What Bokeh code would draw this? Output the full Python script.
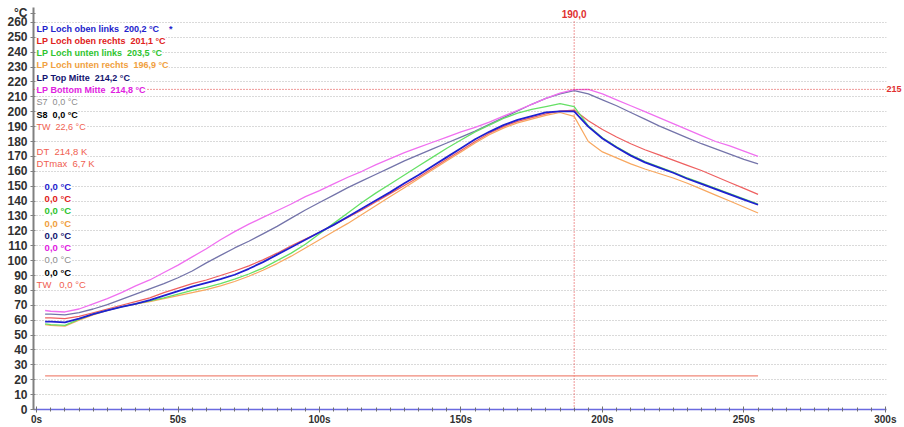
from bokeh.plotting import figure
from bokeh.models import (Range1d, SingleIntervalTicker, FixedTicker, PrintfTickFormatter,
                          Span, Label, LinearAxis)
from bokeh.embed import file_html
from bokeh.resources import INLINE

# ---------------- data ----------------
times = [3, 5, 10, 15, 20, 25, 30, 35, 40, 45, 50, 55, 60, 65, 70, 75, 80, 85, 90, 95,
         100, 105, 110, 115, 120, 125, 130, 135, 140, 145, 150, 155, 160, 165, 170, 175,
         180, 185, 190, 195, 200, 205, 210, 215, 220, 225, 230, 235, 240, 245, 250, 255]

bottom_mitte = [66.5, 66.0, 65.5, 67.5, 71.0, 74.5, 78.5, 83.0, 87.0, 92.0, 97.0, 102.5, 108.0,
                114.0, 119.5, 124.5, 129.0, 133.5, 138.0, 143.0, 147.0, 151.5, 156.0, 160.0,
                164.5, 168.5, 172.5, 176.0, 179.5, 183.0, 186.5, 189.5, 193.0, 197.0, 201.0,
                205.0, 209.0, 212.5, 214.8, 215.0, 212.0, 208.0, 204.0, 200.0, 196.0, 192.0,
                188.0, 184.0, 180.0, 177.0, 173.5, 170.0]

top_mitte = [64.0, 64.0, 63.5, 65.0, 67.5, 70.5, 74.0, 77.5, 81.0, 84.5, 88.5, 93.0, 98.5,
             103.5, 108.5, 113.0, 118.0, 123.0, 128.5, 134.0, 139.0, 144.0, 149.0, 153.5,
             158.0, 162.5, 167.0, 171.0, 175.0, 179.0, 183.0, 187.0, 191.5, 196.0, 200.5,
             205.0, 209.0, 212.0, 214.2, 212.0, 208.0, 204.0, 199.5, 195.0, 190.5, 186.5,
             182.5, 178.5, 175.0, 171.5, 168.0, 165.0]

oben_links = [59.0, 59.0, 58.5, 61.0, 64.0, 66.5, 69.0, 71.0, 73.5, 76.5, 79.5, 82.5, 85.0,
              87.5, 90.5, 94.5, 99.0, 104.0, 109.0, 114.0, 119.0, 124.0, 129.5, 135.0,
              140.5, 146.0, 152.0, 157.5, 163.5, 169.5, 175.5, 181.5, 186.5, 191.0, 194.5,
              197.0, 199.5, 200.2, 200.2, 190.0, 182.0, 176.0, 170.5, 166.0, 162.5, 159.0,
              155.0, 151.5, 148.0, 144.5, 141.0, 137.5]

oben_rechts = [61.5, 61.5, 61.0, 62.5, 65.0, 67.5, 70.0, 72.5, 75.0, 78.5, 81.5, 84.5, 87.0,
               90.0, 93.0, 96.5, 100.5, 105.0, 110.0, 114.5, 119.0, 124.0, 129.0, 134.0,
               139.5, 145.0, 150.5, 156.0, 162.0, 168.0, 174.0, 180.0, 185.5, 190.0, 193.5,
               196.0, 198.5, 200.5, 201.1, 194.0, 188.0, 183.0, 178.5, 174.5, 171.0, 167.5,
               164.0, 160.5, 156.5, 152.5, 148.5, 144.5]

unten_links = [57.5, 57.0, 56.5, 60.5, 64.0, 66.5, 69.0, 71.0, 73.0, 75.0, 77.5, 80.0, 82.0,
               84.5, 87.5, 91.0, 95.0, 100.0, 105.0, 111.0, 118.0, 125.0, 132.0, 139.0,
               145.5, 151.5, 157.5, 163.5, 169.5, 175.5, 181.0, 186.5, 191.0, 195.5, 199.0,
               201.5, 203.5, 205.5, 203.5, 190.5, 182.5, 176.5, 171.0, 166.5, 163.0, 159.5,
               155.5, 152.0, 148.5, 145.0, 141.5, 138.0]

unten_rechts = [57.0, 56.5, 56.0, 60.0, 63.5, 66.5, 69.0, 71.0, 72.5, 74.5, 76.5, 78.5, 80.5,
                83.0, 86.0, 89.5, 93.5, 98.0, 103.0, 108.5, 114.0, 119.5, 125.0, 131.0,
                137.0, 143.0, 149.0, 155.0, 161.0, 167.0, 173.0, 179.0, 184.5, 189.0, 192.5,
                195.0, 197.5, 199.5, 196.9, 180.0, 173.0, 169.0, 165.0, 161.5, 158.5, 155.5,
                152.0, 148.0, 144.0, 140.0, 136.0, 132.0]

tw_times = [3, 255]
tw_vals = [22.6, 22.6]

y_ticks = [0, 10, 20, 30, 40, 50, 60, 70, 80, 90, 100, 110, 120, 130, 140, 150, 160,
           170, 180, 190, 200, 210, 220, 230, 240, 250, 260]
unit_text = "°C"

channel_names = ["LP Loch oben links", "LP Loch oben rechts", "LP Loch unten links",
                 "LP Loch unten rechts", "LP Top Mitte", "LP Bottom Mitte", "S7", "S8", "TW"]
cursor_vals = [200.2, 201.1, 203.5, 196.9, 214.2, 214.8, 0.0, 0.0, 22.6]
second_vals = [0.0, 0.0, 0.0, 0.0, 0.0, 0.0, 0.0, 0.0, 0.0]
dt_val = 214.8
dtmax_val = 6.7
cursor_x = 190.0
cursor_y = 215

text_colors = ["#2222cc", "#e02020", "#2ec42e", "#f0a040", "#141470", "#e020e0",
               "#8c8c8c", "#000000", "#f06050"]
text_bold = [True, True, True, True, True, True, False, True, False]

series = [
    (top_mitte, "#7474aa", 1.3),
    (bottom_mitte, "#f070f0", 1.3),
    (unten_rechts, "#f8a860", 1.2),
    (oben_rechts, "#ee6060", 1.2),
    (unten_links, "#66e066", 1.3),
    (oben_links, "#2020d0", 1.8),
]


def fmt(v):
    return f"{v:.1f}".replace(".", ",")


NB = "\u00a0"
FONT = "Liberation Sans"
Y_TOP = 262          # top of the data area
Y_MAX = 270          # range end (room for unit and cursor labels)
UNIT_POS = 266       # where the unit text sits on the value axis
CURSOR_LABEL_Y = 265.5

# ---------------- figure ----------------
p = figure(width=904, height=427, x_range=Range1d(-1.1, 300.4), y_range=Range1d(0, Y_MAX),
           output_backend="svg", toolbar_location=None,
           min_border_left=33, min_border_right=0, min_border_top=7, min_border_bottom=16)
p.outline_line_color = None
p.background_fill_color = "white"
p.border_fill_color = "white"

p.xgrid.grid_line_color = None
p.ygrid.ticker = SingleIntervalTicker(interval=10, num_minor_ticks=0)
p.ygrid.bounds = (0, Y_TOP)
p.ygrid.grid_line_color = "#b4b4b4"
p.ygrid.grid_line_dash = "1 2"
p.ygrid.grid_line_width = 1

p.yaxis.ticker = FixedTicker(ticks=y_ticks + [UNIT_POS])
p.yaxis.major_label_overrides = {UNIT_POS: unit_text}
p.yaxis.axis_line_color = "#808080"
p.yaxis.axis_line_width = 2
p.yaxis.major_tick_in = 2
p.yaxis.major_tick_out = 3
p.yaxis.major_tick_line_color = "#808080"
p.yaxis.minor_tick_line_color = None
p.yaxis.major_label_text_font = FONT
p.yaxis.major_label_text_font_style = "bold"
p.yaxis.major_label_text_font_size = "12px"
p.yaxis.major_label_text_color = "#303030"
p.yaxis.major_label_standoff = 3

p.xaxis.ticker = SingleIntervalTicker(interval=50, num_minor_ticks=10)
p.xaxis.formatter = PrintfTickFormatter(format="%ds")
p.xaxis.axis_line_color = "#6a6ae0"
p.xaxis.axis_line_width = 1.5
p.xaxis.major_tick_in = 3
p.xaxis.major_tick_out = 3
p.xaxis.minor_tick_in = 2
p.xaxis.minor_tick_out = 2
p.xaxis.major_tick_line_color = "#707070"
p.xaxis.minor_tick_line_color = "#707070"
p.xaxis.major_label_text_font = FONT
p.xaxis.major_label_text_font_style = "bold"
p.xaxis.major_label_text_font_size = "10px"
p.xaxis.major_label_text_color = "#303030"
p.xaxis.major_label_standoff = 1

# right-hand cursor value readout
raxis = LinearAxis(ticker=FixedTicker(ticks=[cursor_y]))
raxis.axis_line_color = None
raxis.major_tick_line_color = None
raxis.minor_tick_line_color = None
raxis.major_tick_out = 0
raxis.major_tick_in = 0
raxis.major_label_standoff = 0
raxis.major_label_text_font = FONT
raxis.major_label_text_font_size = "9px"
raxis.major_label_text_font_style = "bold"
raxis.major_label_text_color = "#e03030"
p.add_layout(raxis, "right")

# cursor lines
p.line([cursor_x, cursor_x], [0, Y_TOP], line_color="#e03030", line_dash="1 2", line_width=1)
p.add_layout(Span(location=cursor_y, dimension="width", line_color="#e03030",
                  line_dash="1 2", line_width=1))

# series
p.line(tw_times, tw_vals, line_color="#f08878", line_width=1.3)
for ys, col, w in series:
    p.line(times, ys, line_color=col, line_width=w)

# ---------------- text overlays ----------------
top_y = 255.8
step = 8.25
for i, (nm, v) in enumerate(zip(channel_names, cursor_vals)):
    txt = f"{nm}{NB}{NB}{fmt(v)}{NB}°C"
    if i == 0:
        txt += f"{NB}{NB}{NB}{NB}*"
    p.add_layout(Label(x=0, y=top_y - i * step, text=txt, text_font=FONT,
                       text_font_size="9px",
                       text_font_style="bold" if text_bold[i] else "normal",
                       text_color=text_colors[i], text_baseline="middle", text_align="left",
                       background_fill_color="white"))

p.add_layout(Label(x=0, y=top_y - 10 * step, text=f"DT{NB}{NB}{fmt(dt_val)}{NB}K",
                   text_font=FONT, text_font_size="9.5px",
                   text_color="#f06050", text_baseline="middle", background_fill_color="white"))
p.add_layout(Label(x=0, y=top_y - 11 * step, text=f"DTmax{NB}{NB}{fmt(dtmax_val)}{NB}K",
                   text_font=FONT, text_font_size="9.5px",
                   text_color="#f06050", text_baseline="middle", background_fill_color="white"))

second_top = 150.0
for i, v in enumerate(second_vals):
    if i < 8:
        txt = f"{fmt(v)}{NB}°C"
        xo = 8
    else:
        txt = f"TW{NB}{NB}{NB}{fmt(v)}{NB}°C"
        xo = 0
    p.add_layout(Label(x=0, y=second_top - i * step, x_offset=xo, text=txt,
                       text_font=FONT, text_font_size="9.5px",
                       text_font_style="bold" if text_bold[i] else "normal",
                       text_color=text_colors[i], text_baseline="middle",
                       background_fill_color="white"))

# cursor time readout
p.add_layout(Label(x=cursor_x, y=CURSOR_LABEL_Y, text=fmt(cursor_x), text_font=FONT,
                   text_font_size="10px", text_font_style="bold", text_color="#e03030",
                   text_baseline="middle", text_align="center"))

open("out.html", "w").write(file_html(p, INLINE))
